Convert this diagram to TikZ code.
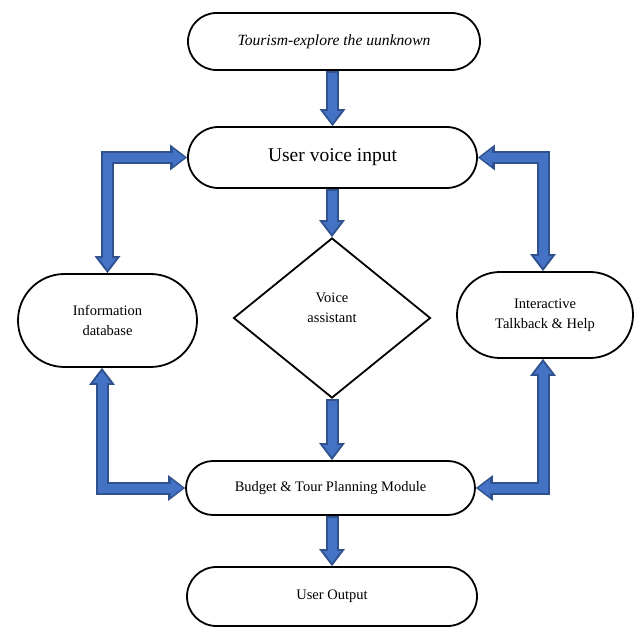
\documentclass[tikz,border=0pt]{standalone}
\usepackage{fontspec}
\setmainfont{Liberation Serif}
\usetikzlibrary{arrows.meta, shapes.geometric}
\definecolor{arrowfill}{HTML}{4472C4}
\definecolor{arrowline}{HTML}{2F528F}

\begin{document}
\begin{tikzpicture}[x=1pt, y=-1pt, >={Triangle[length=0pt 1.31, width=0pt 2, line width=0pt]},
    txt/.style={font=\fontsize{14.5}{19.5}\selectfont, align=center},
    pill/.style 2 args={draw, line width=1.8pt, txt, inner sep=0pt, minimum width=#1, minimum height=#2, rounded corners=#2/2},
    flow/.style={draw=arrowfill, line width=9pt, shorten <=2.5pt, shorten >=3.3pt,
        preaction={draw=arrowline, line width=13pt, shorten <=0pt, shorten >=0pt}}]
        \useasboundingbox (0,0) rectangle (640,628);
        \node[pill={292}{57}, font=\fontsize{15.6}{19.5}\selectfont\itshape] (top) at (334,41.5) {Tourism-explore the uunknown};
        \node[pill={289}{61}, font=\fontsize{19.5}{23}\selectfont] (voice) at (332.5,157.5) {User voice input};
        \node[diamond, draw, line width=1.8pt, minimum width=197, minimum height=160, inner sep=0pt] (assist) at (332,318) {};
        \node[txt] (assisttxt) at ([yshift=10pt]assist.center) {Voice\\assistant};
        \node[pill={179}{93}] (info) at (107.5,320.5) {Information\\database};
        \node[pill={176}{86}] (help) at (545,315) {Interactive\\Talkback \& Help};
        \node[pill={289}{54}] (plan) at (330.5,488) {Budget \& Tour Planning Module};
        \node[pill={290}{59}] (output) at (332,596.5) {User Output};

        \draw[flow, ->] (voice.north |- top.south) -- (voice.north);
        \draw[flow, ->] (assist.north |- voice.south) -- (assist.north);
        \draw[flow, ->] (assist.south) -- (assist.south |- plan.north);
        \draw[flow, ->] (output.north |- plan.south) -- (output.north);
        \draw[flow, <->] (voice.west) -| (info.north);
        \draw[flow, <->] (voice.east) -| ([xshift=-2pt]help.north);
        \draw[flow, <->] (plan.west) -| ([xshift=-5.5pt]info.south);
        \draw[flow, <->] (plan.east) -| ([xshift=-2pt]help.south);
    \end{tikzpicture}
\end{document}
